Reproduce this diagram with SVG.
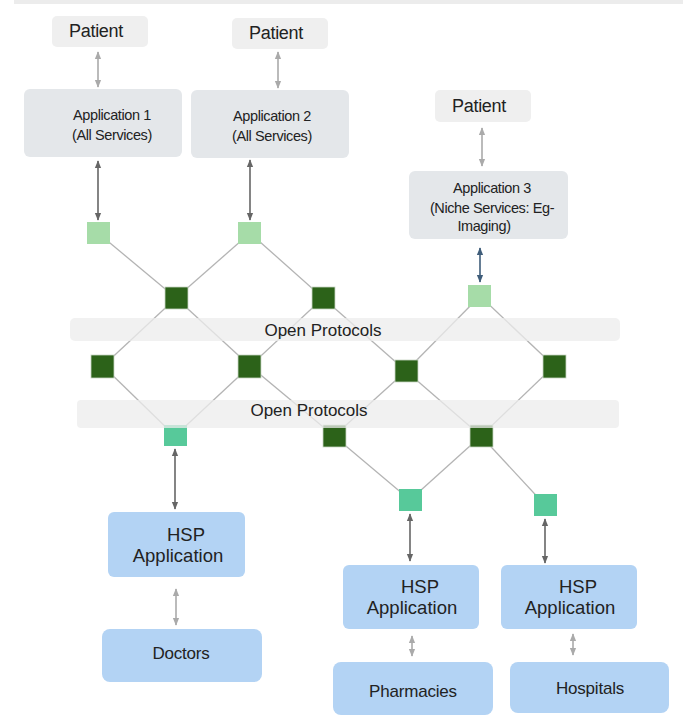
<svg xmlns="http://www.w3.org/2000/svg" width="683" height="715" viewBox="0 0 683 715">
  <style>
    text { font-family: "Liberation Sans", Arial, sans-serif; fill: #222; text-anchor: middle; }
    .patient { fill: #efefef; }
    .app { fill: #e4e7ea; }
    .hsp { fill: #b3d3f4; }
    .band { fill: #ececec; opacity: 0.75; }
    .link { stroke: #b4b4b4; stroke-width: 1.3; fill: none; }
    .dark { fill: #2c6219; stroke: #c9d6c4; stroke-width: 0.8; }
    .lgreen { fill: #a6dca8; }
    .teal { fill: #57c99a; }
    .arr-dark { stroke: #666; stroke-width: 1.6; marker-start: url(#hd); marker-end: url(#hd); }
    .arr-light { stroke: #aaa; stroke-width: 1.6; marker-start: url(#hl); marker-end: url(#hl); }
    .arr-blue { stroke: #3f5d7a; stroke-width: 1.6; marker-start: url(#hb); marker-end: url(#hb); }
    .t-pat { font-size: 18px; letter-spacing: -0.3px; }
    .t-app { font-size: 14.5px; letter-spacing: -0.4px; }
    .t-band { font-size: 17px; }
    .t-hsp { font-size: 18.5px; }
    .t-org { font-size: 17px; letter-spacing: -0.2px; }
  </style>
  <defs>
    <marker id="hd" viewBox="0 0 10 10" refX="9" refY="5" markerWidth="5" markerHeight="5" orient="auto-start-reverse">
      <path d="M0,1 L10,5 L0,9 z" fill="#666"/>
    </marker>
    <marker id="hl" viewBox="0 0 10 10" refX="9" refY="5" markerWidth="5" markerHeight="6" orient="auto-start-reverse">
      <path d="M0,1 L10,5 L0,9 z" fill="#aaa"/>
    </marker>
    <marker id="hb" viewBox="0 0 10 10" refX="9" refY="5" markerWidth="5" markerHeight="5" orient="auto-start-reverse">
      <path d="M0,1 L10,5 L0,9 z" fill="#3f5d7a"/>
    </marker>
  </defs>

  <rect x="0" y="0" width="683" height="715" fill="#fff"/>
  <rect x="14" y="0" width="669" height="4" fill="#ececec"/>

  <!-- mesh links and arrows -->
  <g id="connectors">
    <g class="link-group">
      <line class="link" x1="98" y1="233" x2="176" y2="298"/>
      <line class="link" x1="250" y1="233" x2="176" y2="298"/>
      <line class="link" x1="250" y1="233" x2="323" y2="298"/>
      <line class="link" x1="176" y1="298" x2="103" y2="366"/>
      <line class="link" x1="176" y1="298" x2="250" y2="366"/>
      <line class="link" x1="323" y1="298" x2="250" y2="366"/>
      <line class="link" x1="323" y1="298" x2="406" y2="371"/>
      <line class="link" x1="480" y1="296" x2="406" y2="371"/>
      <line class="link" x1="480" y1="296" x2="554" y2="366"/>
      <line class="link" x1="103" y1="366" x2="175" y2="436"/>
      <line class="link" x1="250" y1="366" x2="175" y2="436"/>
      <line class="link" x1="250" y1="366" x2="334" y2="436"/>
      <line class="link" x1="406" y1="371" x2="334" y2="436"/>
      <line class="link" x1="406" y1="371" x2="481" y2="436"/>
      <line class="link" x1="554" y1="366" x2="481" y2="436"/>
      <line class="link" x1="334" y1="436" x2="410" y2="500"/>
      <line class="link" x1="481" y1="436" x2="410" y2="500"/>
      <line class="link" x1="481" y1="436" x2="545" y2="505"/>
    </g>
    <line class="arr-light" x1="98" y1="52" x2="98" y2="87"/>
    <line class="arr-light" x1="278" y1="52" x2="278" y2="88"/>
    <line class="arr-dark" x1="98" y1="161" x2="98" y2="220"/>
    <line class="arr-dark" x1="250" y1="160" x2="250" y2="220"/>
    <line class="arr-light" x1="482" y1="128" x2="482" y2="166"/>
    <line class="arr-blue" x1="480" y1="248" x2="480" y2="282"/>
    <line class="arr-dark" x1="175" y1="449" x2="175" y2="509"/>
    <line class="arr-light" x1="176" y1="589" x2="176" y2="625"/>
    <line class="arr-dark" x1="410" y1="514" x2="410" y2="561"/>
    <line class="arr-light" x1="412" y1="636" x2="412" y2="656"/>
    <line class="arr-dark" x1="545" y1="519" x2="545" y2="563"/>
    <line class="arr-light" x1="573" y1="634" x2="573" y2="655"/>
  </g>

  <!-- switch nodes -->
  <g id="sw-a1"><rect class="lgreen" x="87" y="222" width="23" height="22"/></g>
  <g id="sw-a2"><rect class="lgreen" x="238" y="222" width="23" height="22"/></g>
  <g id="sw-a3"><rect class="lgreen" x="468" y="285" width="23" height="22"/></g>
  <g id="sw-1"><rect class="dark" x="165" y="287" width="23" height="22"/></g>
  <g id="sw-2"><rect class="dark" x="312" y="287" width="23" height="22"/></g>
  <g id="sw-3"><rect class="dark" x="91" y="355" width="23" height="23"/></g>
  <g id="sw-4"><rect class="dark" x="238" y="355" width="23" height="23"/></g>
  <g id="sw-5"><rect class="dark" x="395" y="360" width="23" height="22"/></g>
  <g id="sw-6"><rect class="dark" x="543" y="355" width="23" height="23"/></g>
  <g id="sw-7"><rect class="dark" x="323" y="425" width="23" height="22"/></g>
  <g id="sw-8"><rect class="dark" x="470" y="425" width="23" height="22"/></g>
  <g id="sw-h1"><rect class="teal" x="164" y="425" width="23" height="21"/></g>
  <g id="sw-h2"><rect class="teal" x="399" y="489" width="23" height="22"/></g>
  <g id="sw-h3"><rect class="teal" x="534" y="494" width="23" height="22"/></g>

  <!-- protocol bands -->
  <g id="band-1">
    <rect class="band" x="70" y="318" width="550" height="23" rx="5"/>
    <text class="t-band" x="323" y="336">Open Protocols</text>
  </g>
  <g id="band-2">
    <rect class="band" x="77" y="400" width="542" height="28" rx="4"/>
    <text class="t-band" x="309" y="416">Open Protocols</text>
  </g>

  <!-- patients and applications -->
  <g id="patient-1">
    <rect class="patient" x="52" y="16" width="96" height="31" rx="5"/>
    <text class="t-pat" x="96" y="37">Patient</text>
  </g>
  <g id="patient-2">
    <rect class="patient" x="232" y="18" width="96" height="31" rx="5"/>
    <text class="t-pat" x="276" y="39">Patient</text>
  </g>
  <g id="patient-3">
    <rect class="patient" x="435" y="90" width="96" height="32" rx="5"/>
    <text class="t-pat" x="479" y="112">Patient</text>
  </g>
  <g id="app-1">
    <rect class="app" x="24" y="89" width="158" height="68" rx="6"/>
    <text class="t-app" x="112" y="120">Application 1</text>
    <text class="t-app" x="112" y="140">(All Services)</text>
  </g>
  <g id="app-2">
    <rect class="app" x="191" y="90" width="158" height="68" rx="6"/>
    <text class="t-app" x="272" y="121">Application 2</text>
    <text class="t-app" x="272" y="141">(All Services)</text>
  </g>
  <g id="app-3">
    <rect class="app" x="409" y="171" width="159" height="68" rx="6"/>
    <text class="t-app" x="492" y="193">Application 3</text>
    <text class="t-app" x="492" y="213">(Niche Services: Eg-</text>
    <text class="t-app" x="484" y="231">Imaging)</text>
  </g>

  <!-- health service providers -->
  <g id="hsp-1">
    <rect class="hsp" x="108" y="512" width="137" height="65" rx="6"/>
    <text class="t-hsp" x="186" y="541">HSP</text>
    <text class="t-hsp" x="178" y="562">Application</text>
  </g>
  <g id="doctors">
    <rect class="hsp" x="102" y="629" width="160" height="53" rx="8"/>
    <text class="t-org" x="181" y="659">Doctors</text>
  </g>
  <g id="hsp-2">
    <rect class="hsp" x="343" y="565" width="136" height="64" rx="6"/>
    <text class="t-hsp" x="420" y="593">HSP</text>
    <text class="t-hsp" x="412" y="614">Application</text>
  </g>
  <g id="pharmacies">
    <rect class="hsp" x="333" y="662" width="160" height="53" rx="8"/>
    <text class="t-org" x="413" y="697">Pharmacies</text>
  </g>
  <g id="hsp-3">
    <rect class="hsp" x="501" y="565" width="136" height="64" rx="6"/>
    <text class="t-hsp" x="578" y="593">HSP</text>
    <text class="t-hsp" x="570" y="614">Application</text>
  </g>
  <g id="hospitals">
    <rect class="hsp" x="510" y="662" width="159" height="51" rx="8"/>
    <text class="t-org" x="590" y="694">Hospitals</text>
  </g>
</svg>
